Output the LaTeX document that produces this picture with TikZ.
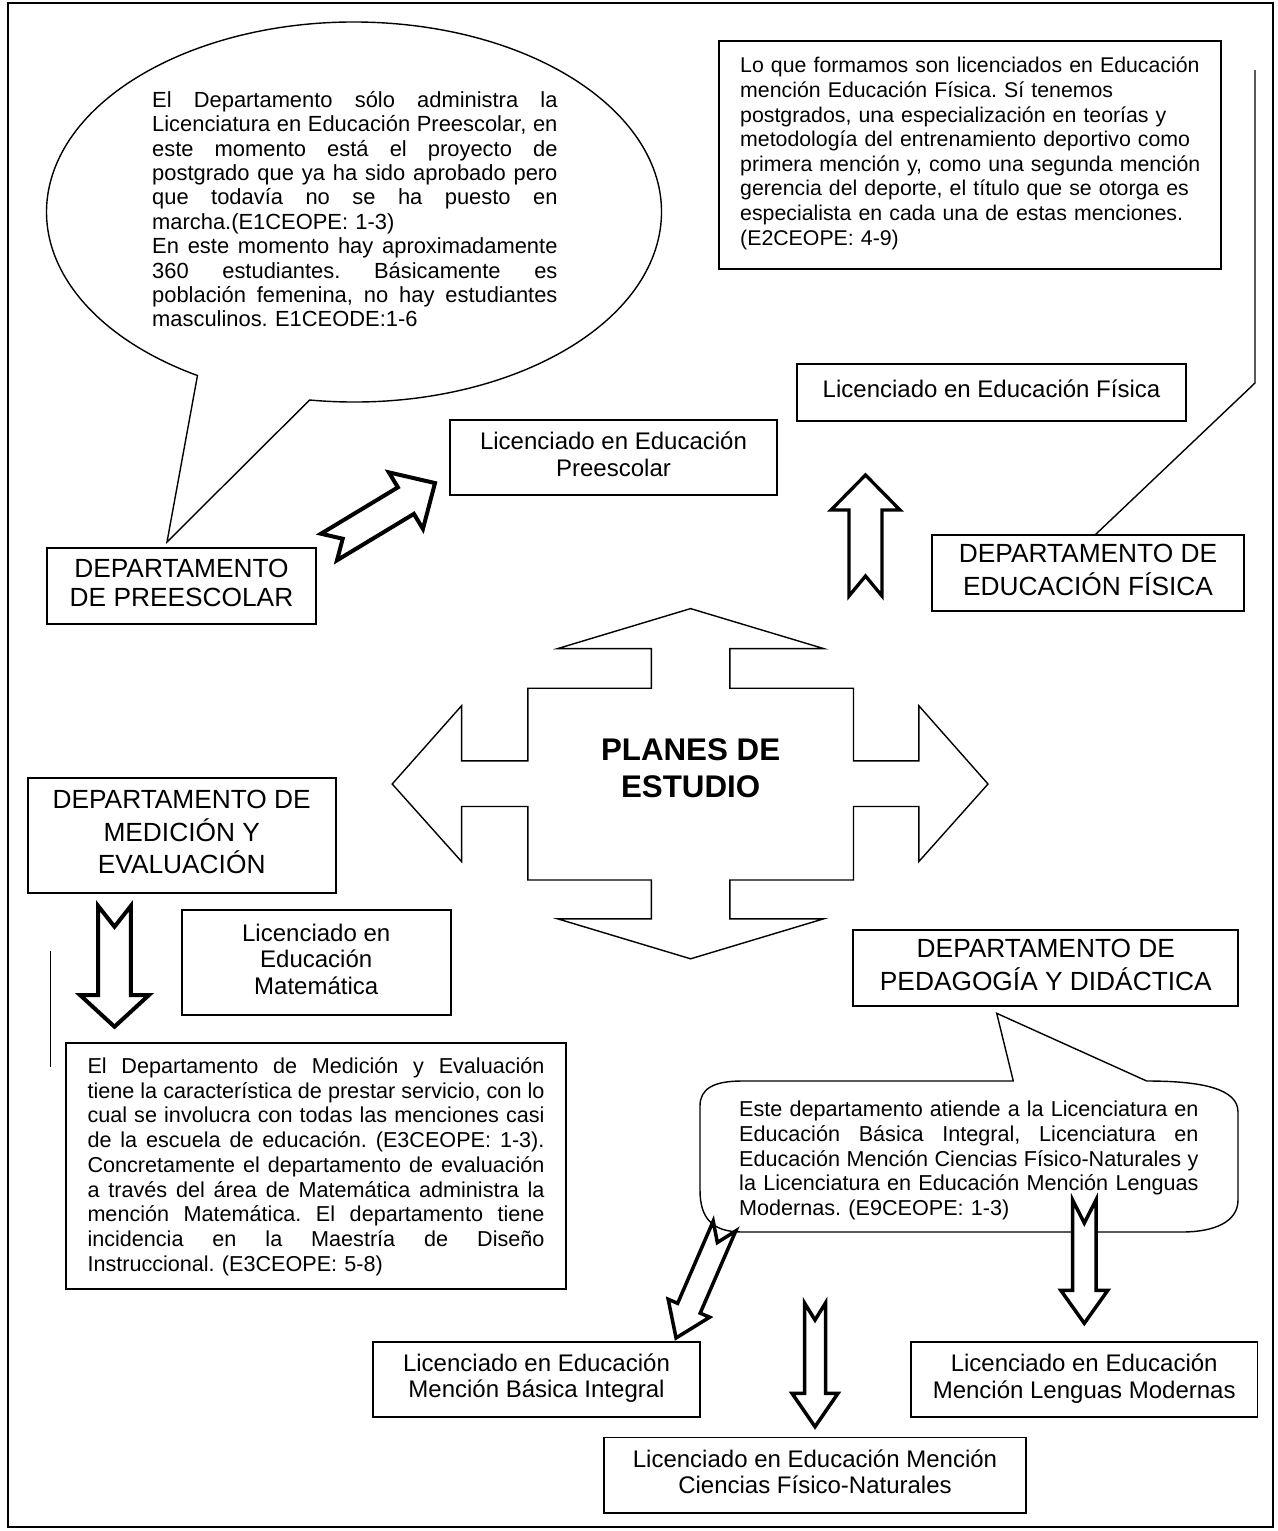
\documentclass[tikz,border=0pt]{standalone}
\usepackage{fontspec}
\setmainfont{Liberation Sans}
\frenchspacing
% a justified line: its spaces share out the width held in \jw
\newcommand{\jw}{400pt}
\newcommand{\jline}[1]{\noindent\hbox to \jw{\spaceskip=0.278em plus 1fil\relax #1}}
% fixes the height of a paragraph's first line
\newcommand{\qfirst}{\noindent\rule{0pt}{20pt}}
% hollow block arrow with a notched tail:
% #1 line width, #2 #3 tail centre, #4 angle, #5 length,
% #6 shaft half width, #7 head half width, #8 head length, #9 notch depth
\newcommand{\blockarr}[9]{%
  \begin{scope}[shift={(#2,#3)}, rotate=#4]
    \draw[blockarrow, line width=#1]
      (0,-#6) -- ({#5-#8},-#6) -- ({#5-#8},-#7) -- (#5,0)
      -- ({#5-#8},#7) -- ({#5-#8},#6) -- (0,#6) -- (#9,0) -- cycle;
  \end{scope}}
\begin{document}
\begin{tikzpicture}[x=1pt, y=-1pt,
  shapeline/.style={line width=1.4pt, line join=miter},
  plainbox/.style={draw, line width=1.7pt, inner sep=0pt, align=center},
  deptbox/.style={plainbox, font=\fontsize{26.3}{29.5}\selectfont},
  licbox/.style={plainbox, font=\fontsize{24}{26.5}\selectfont},
  quotetext/.style={anchor=north west, inner sep=0pt, align=left},
  blockarrow/.style={draw, fill=white, line join=miter, miter limit=10},
]
\useasboundingbox (0,0) rectangle (1277,1531);
\fill[white] (0,0) rectangle (1277,1531);
\draw[line width=2pt] (8,3) rectangle (1273,1527);

% ---------- speech bubble of the preschool department ----------
\draw[shapeline, fill=white] (354,212) ++(261.7:307.5pt and 190pt)
  arc[start angle=261.7, end angle=599.4, x radius=307.5pt, y radius=190pt]
  -- (167,542) -- cycle;
\node[quotetext, text width=405.3pt, font=\fontsize{21.9}{24.4}\selectfont]
  (preQuote) at (152,87) {\renewcommand{\jw}{405.3pt}%
  \qfirst\jline{El Departamento sólo administra la}\\
  \jline{Licenciatura en Educación Preescolar, en}\\
  \jline{este momento está el proyecto de}\\
  \jline{postgrado que ya ha sido aprobado pero}\\
  \jline{que todavía no se ha puesto en}\\
  marcha.(E1CEOPE: 1-3)\\
  \jline{En este momento hay aproximadamente}\\
  \jline{360 estudiantes. Básicamente es}\\
  \jline{población femenina, no hay estudiantes}\\
  masculinos. E1CEODE:1-6};

% ---------- physical education quote ----------
\node[draw, line width=1.7pt, inner sep=0pt, minimum width=502pt, minimum height=228pt]
  (fisQuote) at (970,155) {};
\node[quotetext, text width=480pt, font=\fontsize{21.3}{24.6}\selectfont]
  (fisText) at (740,52.6) {%
  \qfirst Lo que formamos son licenciados en Educación\\
  mención Educación Física. Sí tenemos\\
  postgrados, una especialización en teorías y\\
  metodología del entrenamiento deportivo como\\
  primera mención y, como una segunda mención\\
  gerencia del deporte, el título que se otorga es\\
  especialista en cada una de estas menciones.\\
  (E2CEOPE: 4-9)};

% ---------- boxes ----------
\node[deptbox, minimum width=269pt, minimum height=76pt] (preDept) at (181.5,586)
  {\strut DEPARTAMENTO\\\strut DE PREESCOLAR};
\node[licbox, minimum width=327pt, minimum height=75pt] (preLic) at (613.5,457.5)
  {\strut Licenciado en Educación\\\strut Preescolar};
\node[licbox, minimum width=389pt, minimum height=57pt] (fisLic) at (991.5,392.5)
  {\strut Licenciado en Educación Física};
\node[deptbox, minimum width=312pt, minimum height=76pt] (fisDept) at (1088,573)
  {\strut DEPARTAMENTO DE\\\strut EDUCACIÓN FÍSICA};
\node[deptbox, minimum width=308pt, minimum height=114.7pt] (medDept) at (181.7,835.4)
  {\strut DEPARTAMENTO DE\\\strut MEDICIÓN Y\\\strut EVALUACIÓN};
\node[licbox, minimum width=269pt, minimum height=105pt] (matLic) at (316.2,962.5)
  {\strut Licenciado en\\\strut Educación\\\strut Matemática};
\node[deptbox, minimum width=385pt, minimum height=76pt] (pedDept) at (1045.8,968)
  {\strut DEPARTAMENTO DE\\\strut PEDAGOGÍA Y DIDÁCTICA};
\node[licbox, minimum width=327pt, minimum height=75pt] (basLic) at (536.5,1379.2)
  {\strut Licenciado en Educación\\\strut Mención Básica Integral};
\node[licbox, minimum width=346.3pt, minimum height=75.6pt] (lenLic) at (1084.2,1379.5)
  {\strut Licenciado en Educación\\\strut Mención Lenguas Modernas};
\node[licbox, minimum width=422pt, minimum height=75.7pt] (cieLic) at (815,1475.2)
  {\strut Licenciado en Educación Mención\\\strut Ciencias Físico-Naturales};

% ---------- measurement department quote ----------
\node[draw, line width=1.7pt, inner sep=0pt, minimum width=499.7pt, minimum height=245.7pt]
  (medQuote) at (315.85,1166.15) {};
\node[quotetext, text width=457pt, font=\fontsize{21.6}{24.7}\selectfont]
  (medText) at (87.3,1053.3) {\renewcommand{\jw}{457pt}%
  \qfirst\jline{El Departamento de Medición y Evaluación}\\
  \jline{tiene la característica de prestar servicio, con lo}\\
  \jline{cual se involucra con todas las menciones casi}\\
  \jline{de la escuela de educación. (E3CEOPE: 1-3).}\\
  \jline{Concretamente el departamento de evaluación}\\
  \jline{a través del área de Matemática administra la}\\
  \jline{mención Matemática. El departamento tiene}\\
  \jline{incidencia en la Maestría de Diseño}\\
  Instruccional. (E3CEOPE: 5-8)};

% ---------- callout of the pedagogy department ----------
\draw[shapeline, fill=white] (1013.3,1081) -- (996.7,1013.3) -- (1146.7,1081)
  .. controls (1203,1081) and (1238,1089) .. (1238,1112) -- (1238,1200)
  .. controls (1238,1222) and (1214,1232) .. (1182,1232) -- (742,1232)
  .. controls (712,1232) and (700,1218) .. (700,1190) -- (700,1106)
  .. controls (700,1089) and (713,1081) .. (742,1081) -- cycle;
\node[quotetext, text width=459.3pt, font=\fontsize{21.6}{24.6}\selectfont]
  (pedText) at (739,1096.7) {\renewcommand{\jw}{459.3pt}%
  \qfirst\jline{Este departamento atiende a la Licenciatura en}\\
  \jline{Educación Básica Integral, Licenciatura en}\\
  \jline{Educación Mención Ciencias Físico-Naturales y}\\
  \jline{la Licenciatura en Educación Mención Lenguas}\\
  Modernas. (E9CEOPE: 1-3)};

% ---------- central cross ----------
\draw[shapeline, fill=white]
  (690.6,608.6) -- (823.7,648.6) -- (729.8,648.6) -- (729.8,688.2)
  -- (853.5,688.2) -- (853.5,760.8) -- (918.8,760.8) -- (918.8,705.7)
  -- (988,784) -- (918.8,861.6) -- (918.8,806.5) -- (853.5,806.5)
  -- (853.5,880) -- (729.8,880) -- (729.8,918.8) -- (823.7,918.8)
  -- (690.6,958.8) -- (557.6,918.8) -- (651.4,918.8) -- (651.4,880)
  -- (527.8,880) -- (527.8,806.5) -- (461.6,806.5) -- (461.6,861.6)
  -- (392.2,784) -- (461.6,705.7) -- (461.6,760.8) -- (527.8,760.8)
  -- (527.8,688.2) -- (651.4,688.2) -- (651.4,648.6) -- (557.6,648.6) -- cycle;
\node[font=\bfseries\fontsize{31.3}{37}\selectfont, align=center, inner sep=0pt]
  (planes) at (690.6,768) {PLANES DE\\ESTUDIO};

% ---------- plain connector lines ----------
\coordinate (fisLineTop) at (1255,70);
\coordinate (fisLineBend) at (1255,383);
\coordinate (fisLineFoot) at (1095,535);
\draw[shapeline] (fisLineTop) -- (fisLineBend) -- (fisLineFoot);
\coordinate (medLineTop) at (50.7,950.7);
\coordinate (medLineBot) at (50.7,1067.3);
\draw[shapeline] (medLineTop) -- (medLineBot);

% ---------- hollow block arrows ----------
\blockarr{4pt}{329}{547}{31.1}{123.8}{15.5}{33}{34}{16}
\blockarr{3.3pt}{865.5}{596}{90}{121}{16.5}{34.5}{35}{20}
\blockarr{4pt}{114.5}{906}{-90}{120.7}{16.3}{34.5}{31.7}{20.7}
\blockarr{3.5pt}{724.5}{1226}{-113.4}{122}{12.3}{22.6}{32.4}{18}
\blockarr{3.5pt}{815}{1303}{-90}{123.7}{10.5}{23}{33.4}{17}
\blockarr{3.5pt}{1084.3}{1200}{-90}{123.3}{11.7}{23.5}{33}{23}
\end{tikzpicture}
\end{document}
